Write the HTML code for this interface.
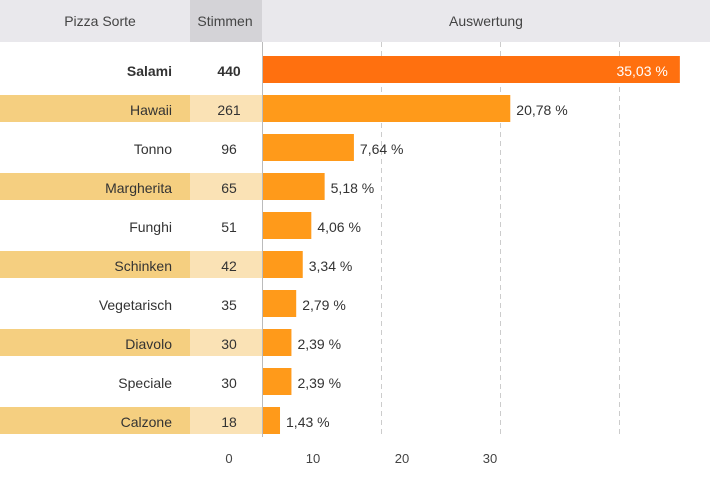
<!DOCTYPE html>
<html><head><meta charset="utf-8"><style>
body{margin:0;background:#fff;font-family:"Liberation Sans",sans-serif;}
svg text{font-family:"Liberation Sans",sans-serif;}
</style></head><body>
<svg id="c" width="710" height="474">
<rect x="0" y="0" width="710" height="42" fill="#e9e8ec"/>
<rect x="190" y="0" width="72" height="42" fill="#d4d3d7"/>
<text x="100" y="26" text-anchor="middle" font-size="14" fill="#444">Pizza Sorte</text>
<text x="225" y="26" text-anchor="middle" font-size="14" fill="#444">Stimmen</text>
<text x="486" y="26" text-anchor="middle" font-size="14" fill="#444">Auswertung</text>
<g id="rows"></g>
<g id="grid"></g>
<g id="bars"></g>
<line x1="262.5" y1="42" x2="262.5" y2="437" stroke="#bbb"/>
<g id="ticks"></g>
</svg>
<script>
const categories=["Salami","Hawaii","Tonno","Margherita","Funghi","Schinken","Vegetarisch","Diavolo","Speciale","Calzone"];
const votes=[440,261,96,65,51,42,35,30,30,18];
const percents=[35.03,20.78,7.64,5.18,4.06,3.34,2.79,2.39,2.39,1.43];
const gridValues=[10,20,30];
const tickLabels=["0","10","20","30"];
const NS="http://www.w3.org/2000/svg";
const x0=263, pxPer=11.9, rowTop=56, rowStep=39, barH=27;
const xs=v=>x0+v*pxPer;
function mk(tag,a,parent,txt){const e=document.createElementNS(NS,tag);for(const k in a)e.setAttribute(k,a[k]);if(txt!==undefined)e.textContent=txt;document.getElementById(parent).appendChild(e);return e;}
gridValues.forEach((g,i)=>{
 const l=mk("line",{x1:xs(g)-0.5,x2:xs(g)-0.5,y1:42,y2:437,stroke:"#ccc","stroke-dasharray":"5,4"},"grid");
 
 
});
const tickX=[229,313,402,490];
tickLabels.forEach((t,i)=>{
 const e=mk("text",{x:tickX[i],y:463,"text-anchor":"middle","font-size":"13",fill:"#444"},"ticks",t);
 
 
});
categories.forEach((c,i)=>{
 const y=rowTop+i*rowStep, cy=y+barH/2+6.5;
 const bold=i===0;
 if(i%2===1){
  const r1=mk("rect",{x:0,y:y,width:190,height:barH,fill:"#f5cf80"},"rows");
  
  
  const r2=mk("rect",{x:190,y:y,width:72,height:barH,fill:"#fae2b5"},"rows");
  
  
 }
 const t=mk("text",{x:172,y:cy,"text-anchor":"end","font-size":"14",fill:"#333","font-weight":bold?"bold":"normal"},"rows",c);
 
 
 const v=mk("text",{x:229,y:cy,"text-anchor":"middle","font-size":"14",fill:"#333","font-weight":bold?"bold":"normal"},"rows",String(votes[i]));
 
 
 const w=xs(percents[i])-x0;
 const b=mk("rect",{x:x0,y:y,width:w,height:barH,fill:bold?"#ff700f":"#ff9a1a"},"bars");
 
 
 const lbl=percents[i].toFixed(2).replace(".",",")+" %";
 const p=bold?mk("text",{x:x0+w-12,y:cy,"text-anchor":"end","font-size":"14",fill:"#fff"},"bars",lbl)
            :mk("text",{x:x0+w+6,y:cy,"font-size":"14",fill:"#333"},"bars",lbl);
 
 
});
</script>
</body></html>
